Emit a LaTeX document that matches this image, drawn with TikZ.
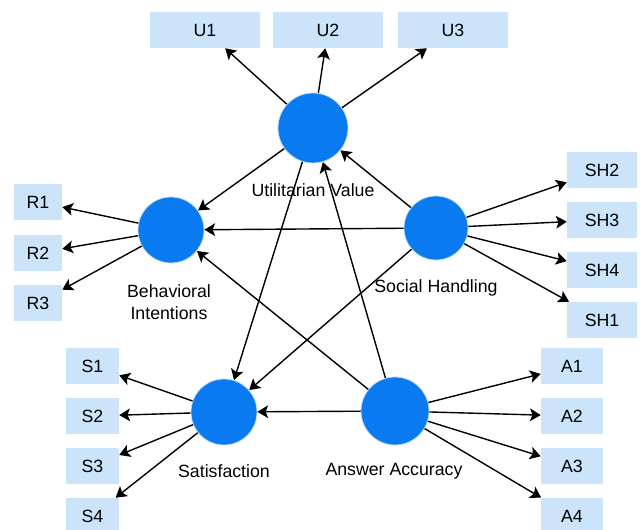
\documentclass[tikz,border=0pt]{standalone}
\usepackage{fontspec}
\setmainfont{Liberation Sans}
\usetikzlibrary{arrows.meta}
\definecolor{circfill}{HTML}{0A7AF0}
\definecolor{circline}{HTML}{BFD9F5}
\definecolor{boxfill}{HTML}{CCE4FA}
\begin{document}
\begin{tikzpicture}[x=0.75pt,y=-0.75pt,
  latent/.style={circle,fill=circfill,draw=circline,line width=0.6pt,minimum size=#1*1.5pt,inner sep=0pt},
  ind/.style={rectangle,fill=boxfill,draw=none,minimum width=#1*0.75pt,minimum height=27pt,inner sep=0pt,font=\fontsize{13.3}{16}\selectfont},
  lbl/.style={font=\fontsize{13.3}{16}\selectfont,align=center,inner sep=0pt},
  arr/.style={draw=black,line width=1.05pt,-{Stealth[length=8pt,width=9.5pt,inset=1.8pt]}}]
\useasboundingbox (0,0) rectangle (644,530);
% latent variables
\node[latent=35] (uv) at (313,128) {};
\node[latent=33] (bi) at (171,230) {};
\node[latent=32] (sh) at (436,228) {};
\node[latent=33] (sat) at (224,412) {};
\node[latent=34] (aa) at (395,411) {};
% labels
\node[lbl] (luv) at (313,190) {Utilitarian Value};
\node[lbl] (lbi) at (169,302) {Behavioral\\[1pt]Intentions};
\node[lbl] (lsh) at (436,288) {Social Handling};
\node[lbl] (lsat) at (224,471) {Satisfaction};
\node[lbl] (laa) at (394,471) {Answer Accuracy};
% indicators
\node[ind=110] (u1) at (205,30) {U1};
\node[ind=110] (u2) at (328,30) {U2};
\node[ind=110] (u3) at (453,30) {U3};
\node[ind=48] (r1) at (38,202) {R1};
\node[ind=48] (r2) at (38,253) {R2};
\node[ind=48] (r3) at (38,303) {R3};
\node[ind=70] (sh2) at (602,170) {SH2};
\node[ind=70] (sh3) at (602,220) {SH3};
\node[ind=70] (sh4) at (602,270) {SH4};
\node[ind=70] (sh1) at (602,320) {SH1};
\node[ind=53] (s1) at (92.5,366) {S1};
\node[ind=53] (s2) at (92.5,416) {S2};
\node[ind=53] (s3) at (92.5,466) {S3};
\node[ind=53] (s4) at (92.5,516) {S4};
\node[ind=62] (a1) at (572,366) {A1};
\node[ind=62] (a2) at (572,416) {A2};
\node[ind=62] (a3) at (572,466) {A3};
\node[ind=62] (a4) at (572,516) {A4};
% outer model arrows
\foreach \t in {u1,u2,u3} \draw[arr] (uv) -- (\t);
\foreach \t in {r1,r2,r3} \draw[arr] (bi) -- (\t);
\foreach \t in {sh2,sh3,sh4,sh1} \draw[arr] (sh) -- (\t);
\foreach \t in {s1,s2,s3,s4} \draw[arr] (sat) -- (\t);
\foreach \t in {a1,a2,a3,a4} \draw[arr] (aa) -- (\t);
% inner model arrows
\draw[arr] (uv) -- (bi);
\draw[arr] (sh) -- (bi);
\draw[arr] (aa) -- (bi);
\draw[arr] (uv) -- (sat);
\draw[arr] (sh) -- (sat);
\draw[arr] (aa) -- (sat);
\draw[arr] (aa) -- (uv);
\draw[arr] (sh) -- (uv);
\end{tikzpicture}
\end{document}
